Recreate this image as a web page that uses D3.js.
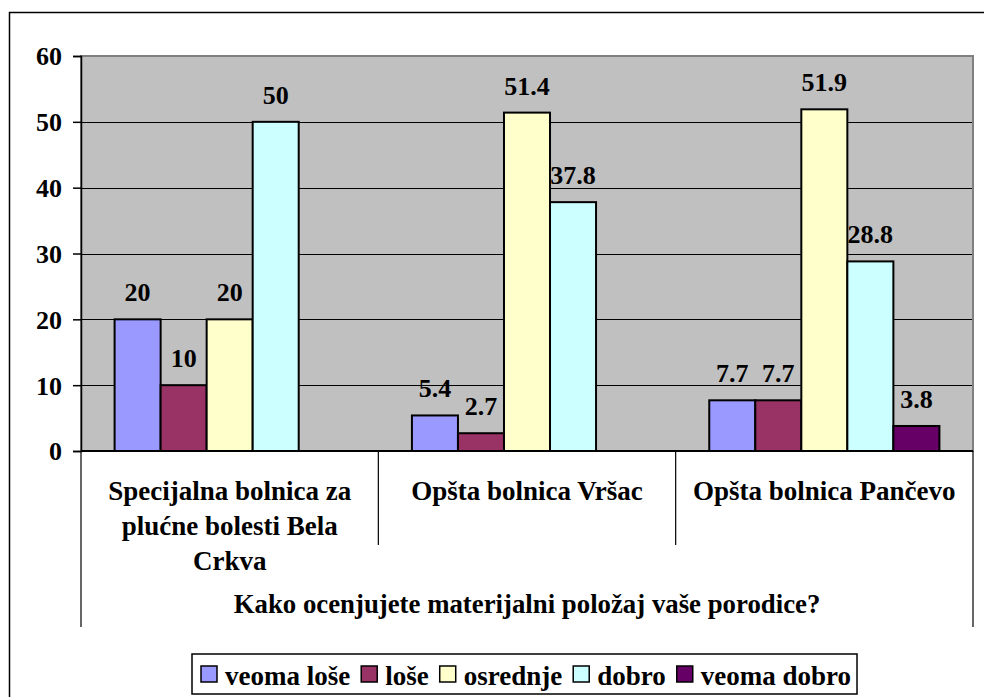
<!DOCTYPE html>
<html>
<head>
<meta charset="utf-8">
<script src="https://cdn.jsdelivr.net/npm/d3@7"></script>
<style>
  body { margin: 0; background: #fff; }
</style>
</head>
<body>
<div id="chart"></div>
<script>
// data
var hospitals = [
  ['Specijalna bolnica za', 'plućne bolesti Bela', 'Crkva'],
  ['Opšta bolnica Vršac'],
  ['Opšta bolnica Pančevo']
];
var seriesNames = ['veoma loše', 'loše', 'osrednje', 'dobro', 'veoma dobro'];
var veomaLose = [20, 5.4, 7.7];
var lose = [10, 2.7, 7.7];
var osrednje = [20, 51.4, 51.9];
var dobro = [50, 37.8, 28.8];
var veomaDobro = [null, null, 3.8];
var yTicks = [0, 10, 20, 30, 40, 50, 60];
var axisTitle = 'Kako ocenjujete materijalni položaj vaše porodice?';

var colors = ['#9999FF', '#993366', '#FFFFCC', '#CCFFFF', '#660066'];
var seriesValues = [veomaLose, lose, osrednje, dobro, veomaDobro];
var serif = "'Liberation Serif', 'Times New Roman', Times, serif";

var svgWidth = 984;
var svgHeight = 697;
var margin = { top: 56, left: 81, right: 11, bottom: 246 };
var width = svgWidth - margin.left - margin.right;
var height = svgHeight - margin.top - margin.bottom;

var svg = d3.select('#chart')
  .append('svg')
  .attr('width', svgWidth)
  .attr('height', svgHeight)
  .style('font-family', serif)
  .style('font-weight', 'bold');

// outer frame (runs off the right and bottom edge)
svg.append('rect')
  .attr('x', 9.5).attr('y', 12.5)
  .attr('width', 1000).attr('height', 1000)
  .attr('fill', 'none').attr('stroke', '#000').attr('stroke-width', 1.5);

var chartGroup = svg.append('g')
  .attr('transform', `translate(${margin.left}, ${margin.top})`);

var cats = hospitals.map((d, i) => i);
var x0 = d3.scaleBand().domain(cats).range([0, width]);
var gap = x0.bandwidth() * 0.113;
var x1 = d3.scaleBand().domain(d3.range(seriesNames.length))
  .range([gap, x0.bandwidth() - gap]);
var y = d3.scaleLinear().domain([0, 60]).range([height, 0]);

// plot background
chartGroup.append('rect')
  .attr('width', width).attr('height', height)
  .attr('fill', '#C0C0C0');

// gridlines
chartGroup.selectAll('.grid')
  .data(yTicks.filter(t => t > 0 && t < 60))
  .enter().append('line')
  .attr('x1', 0).attr('x2', width)
  .attr('y1', d => Math.round(y(d)) + 0.5).attr('y2', d => Math.round(y(d)) + 0.5)
  .attr('stroke', '#000').attr('stroke-width', 1);

// plot border
chartGroup.append('rect')
  .attr('x', 0).attr('y', 0)
  .attr('width', width).attr('height', height)
  .attr('fill', 'none').attr('stroke', '#808080').attr('stroke-width', 2);

// bars
var barData = [];
cats.forEach(function (c) {
  seriesNames.forEach(function (s, j) {
    var v = seriesValues[j][c];
    if (v !== null) barData.push({ cat: c, s: j, v: v });
  });
});

chartGroup.selectAll('.bar')
  .data(barData)
  .enter().append('rect')
  .attr('x', d => x0(d.cat) + x1(d.s))
  .attr('y', d => y(d.v))
  .attr('width', x1.bandwidth())
  .attr('height', d => height - y(d.v))
  .attr('fill', d => colors[d.s])
  .attr('stroke', '#000').attr('stroke-width', 2);

chartGroup.selectAll('.val')
  .data(barData)
  .enter().append('text')
  .attr('x', d => x0(d.cat) + x1(d.s) + x1.bandwidth() / 2)
  .attr('y', d => y(d.v) - 18)
  .attr('text-anchor', 'middle')
  .style('font-family', serif)
  .style('font-size', '26px')
  .text(d => String(d.v));

// y axis
var yAxis = chartGroup.append('g')
  .call(d3.axisLeft(y).tickValues(yTicks).tickSize(8).tickPadding(11));
yAxis.attr('font-family', null).attr('font-size', null);
yAxis.select('.domain').attr('stroke', '#000').attr('stroke-width', 1.5);
yAxis.selectAll('.tick line').attr('stroke', '#000').attr('stroke-width', 1.5);
yAxis.selectAll('.tick text')
  .attr('fill', '#000')
  .style('font-family', serif)
  .style('font-size', '26px')
  .attr('dy', '0.34em');

// x axis line
chartGroup.append('line')
  .attr('x1', 0).attr('x2', width)
  .attr('y1', height).attr('y2', height)
  .attr('stroke', '#000').attr('stroke-width', 2);

// category separators
var edges = cats.map(c => x0(c)).concat([width]);
chartGroup.selectAll('.sep')
  .data(edges)
  .enter().append('line')
  .attr('x1', d => d).attr('x2', d => d)
  .attr('y1', height)
  .attr('y2', (d, i) => (i === 0 || i === edges.length - 1) ? height + 176 : height + 94)
  .attr('stroke', '#000').attr('stroke-width', 1.2);

// category labels
var catLabels = chartGroup.selectAll('.cat')
  .data(hospitals)
  .enter().append('text')
  .attr('text-anchor', 'middle')
  .style('font-family', serif)
  .style('font-size', '27px');
catLabels.each(function (lines, i) {
  d3.select(this).selectAll('tspan')
    .data(lines)
    .enter().append('tspan')
    .attr('x', x0(i) + x0.bandwidth() / 2)
    .attr('y', (d, k) => height + 49 + k * 35)
    .text(d => d);
});

chartGroup.append('text')
  .attr('x', width / 2)
  .attr('y', height + 162)
  .attr('text-anchor', 'middle')
  .style('font-family', serif)
  .style('font-size', '26.8px')
  .text(axisTitle);

// legend
var legend = svg.append('g').attr('transform', 'translate(192, 654)');
var legendBox = legend.append('rect')
  .attr('height', 40)
  .attr('fill', '#fff').attr('stroke', '#000').attr('stroke-width', 1.5);
var cursor = 9;
seriesNames.forEach(function (name, i) {
  legend.append('rect')
    .attr('x', cursor).attr('y', 12)
    .attr('width', 16).attr('height', 16)
    .attr('fill', colors[i]).attr('stroke', '#000').attr('stroke-width', 1.5);
  var t = legend.append('text')
    .attr('x', cursor + 24).attr('y', 31)
    .style('font-family', serif)
    .style('font-size', '27px')
    .text(name);
  cursor += 24 + t.node().getComputedTextLength() + 11;
});
legendBox.attr('width', cursor - 5);
</script>
</body>
</html>
